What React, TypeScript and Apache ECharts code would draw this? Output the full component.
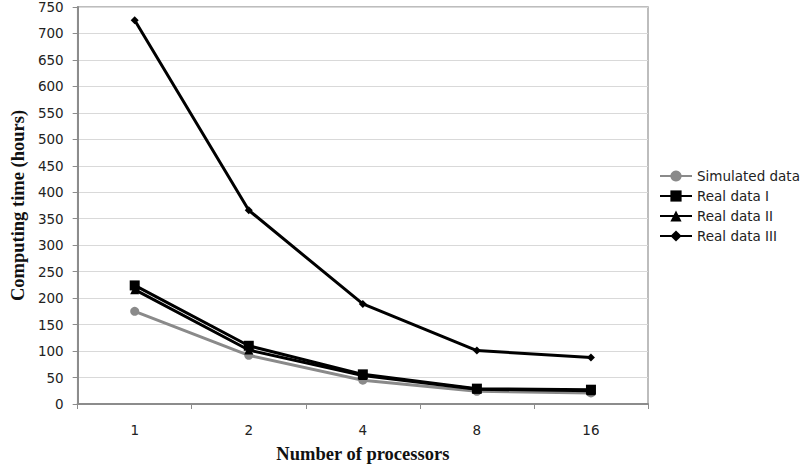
import React, { useEffect, useRef } from "react";
import * as echarts from "echarts";

const categories = ["1", "2", "4", "8", "16"];
const simulated = [175, 92, 45, 24, 21];
const realI = [224, 110, 56, 29, 27];
const realII = [216, 102, 54, 28, 25];
const realIII = [725, 366, 189, 101, 88];
const yTicks = { min: 0, max: 750, interval: 50 };

export default function App() {
  const ref = useRef<HTMLDivElement>(null);
  useEffect(() => {
    const chart = echarts.init(ref.current!, null, { renderer: "svg" });
    const font = "DejaVu Sans";
    const mk = (name: string, data: number[], color: string, symbol: string, size: number, width: number) => ({
      name,
      type: "line",
      data,
      symbol,
      symbolSize: size,
      lineStyle: { color, width },
      itemStyle: { color },
      z: 3,
    });
    chart.setOption({
      animation: false,
      backgroundColor: "#ffffff",
      grid: { left: 68, right: 152, top: 6, bottom: 58, show: true, borderColor: "#a8a8a8", borderWidth: 1.5 },
      legend: {
        orient: "vertical",
        left: 659,
        top: 169,
        padding: 0,
        itemWidth: 32,
        itemHeight: 14,
        itemGap: 6,
        textStyle: { fontFamily: font, fontSize: 13.5, lineHeight: 14, color: "#222" },
        data: ["Simulated data", "Real data I", "Real data II", "Real data III"],
      },
      xAxis: {
        type: "category",
        data: categories,
        boundaryGap: true,
        name: "Number of processors",
        nameLocation: "middle",
        nameGap: 40,
        nameTextStyle: { fontFamily: "Liberation Serif", fontWeight: "bold", fontSize: 18.5, color: "#111" },
        axisLine: { lineStyle: { color: "#8c8c8c", width: 2 } },
        axisTick: { show: true, length: 5, lineStyle: { color: "#8c8c8c" } },
        axisLabel: { fontFamily: font, fontSize: 13.5, color: "#222", margin: 19 },
      },
      yAxis: {
        type: "value",
        min: yTicks.min,
        max: yTicks.max,
        interval: yTicks.interval,
        name: "Computing time (hours)",
        nameLocation: "middle",
        nameRotate: 90,
        nameGap: 49,
        nameTextStyle: { fontFamily: "Liberation Serif", fontWeight: "bold", fontSize: 18.5, color: "#111" },
        axisLine: { show: true, lineStyle: { color: "#8c8c8c", width: 2 } },
        axisTick: { show: true, length: 5, lineStyle: { color: "#8c8c8c" } },
        axisLabel: { fontFamily: font, fontSize: 13.5, color: "#222", margin: 14 },
        splitLine: { lineStyle: { color: "#d9d9d9", width: 1 } },
      },
      series: [
        mk("Simulated data", simulated, "#8a8a8a", "circle", 9, 3),
        mk("Real data I", realI, "#000000", "rect", 10, 3),
        mk("Real data II", realII, "#000000", "triangle", 9, 3),
        mk("Real data III", realIII, "#000000", "diamond", 8, 3),
      ],
    });
    return () => chart.dispose();
  }, []);
  return <div ref={ref} style={{ position: "absolute", left: 0, top: 0, width: 800, height: 468 }} />;
}
